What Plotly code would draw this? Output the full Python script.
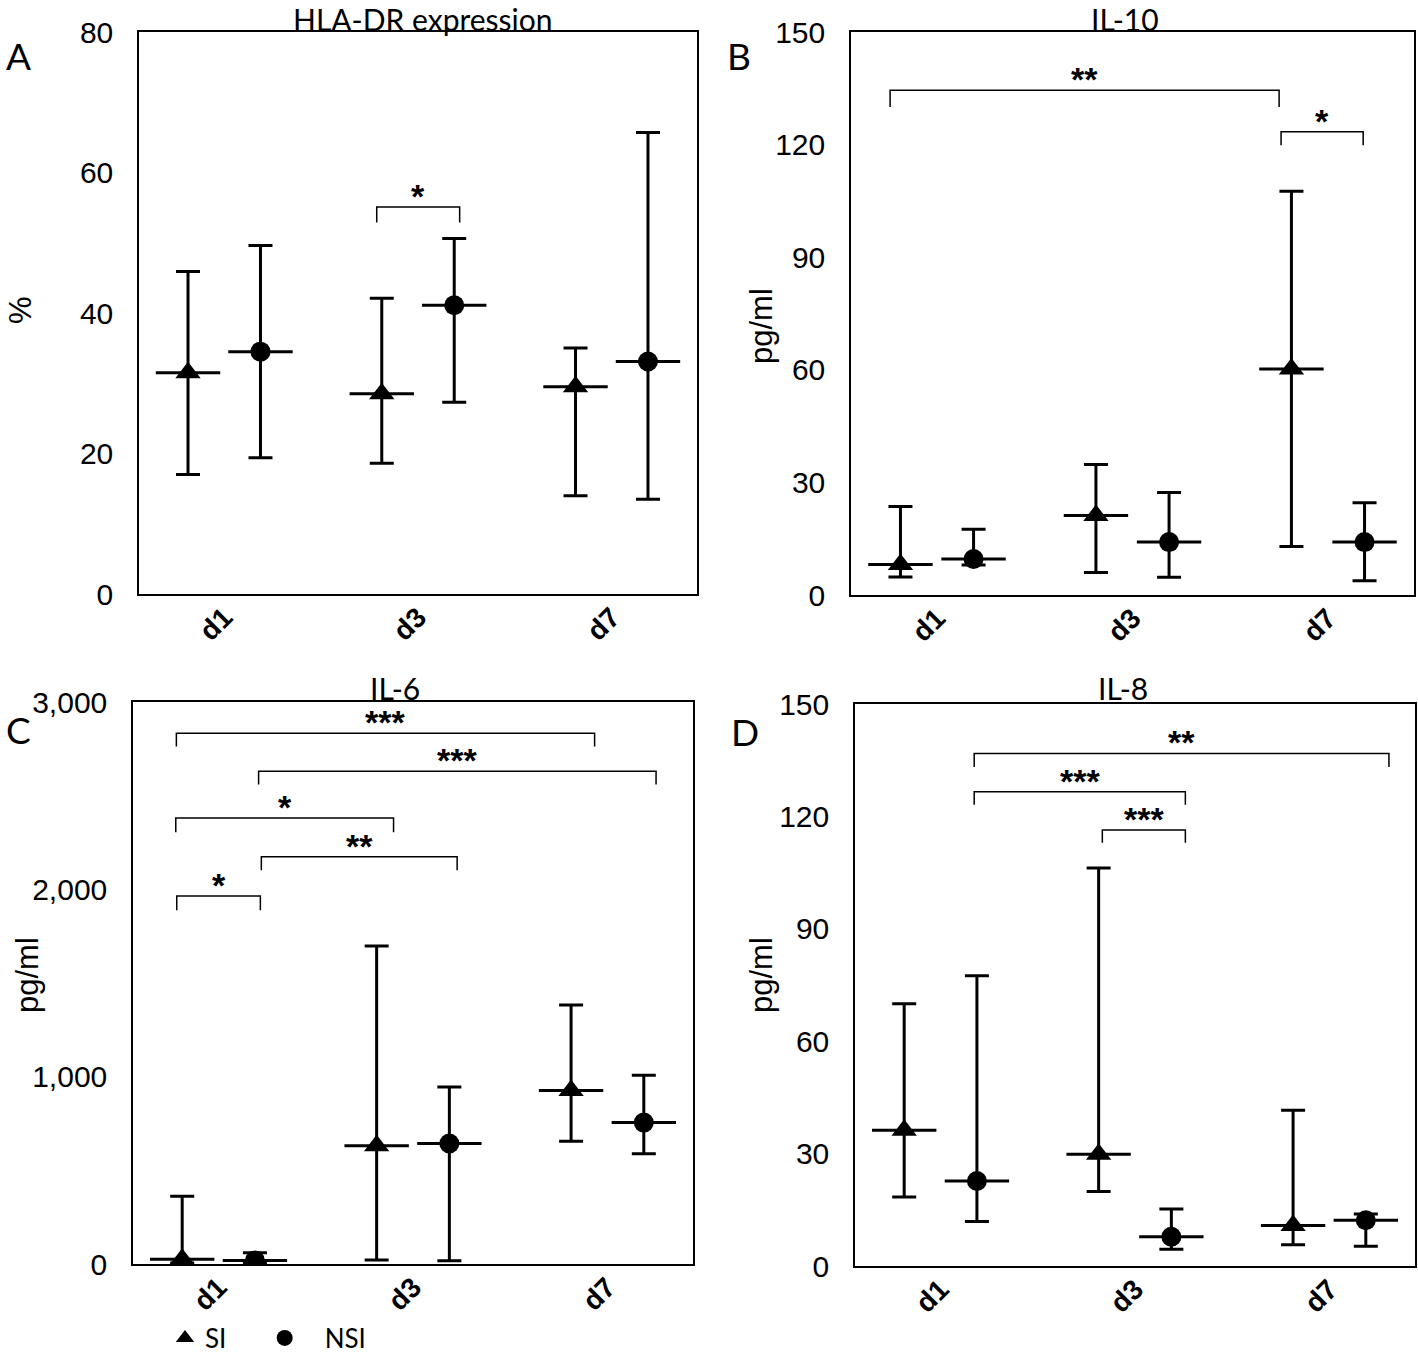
import plotly.graph_objects as go

# ---------------- data ----------------
groups = ["d1", "d3", "d7"]

hla_si_med = [31.5, 28.5, 29.5]
hla_si_lo = [17.0, 18.6, 14.0]
hla_si_hi = [45.9, 42.1, 35.0]
hla_nsi_med = [34.5, 41.1, 33.1]
hla_nsi_lo = [19.4, 27.3, 13.5]
hla_nsi_hi = [49.6, 50.6, 65.7]

il10_si_med = [8.1, 21.2, 60.2]
il10_si_lo = [4.8, 6.0, 12.9]
il10_si_hi = [23.6, 34.8, 107.6]
il10_nsi_med = [9.6, 14.1, 14.1]
il10_nsi_lo = [8.0, 4.7, 3.8]
il10_nsi_hi = [17.5, 27.3, 24.6]

il6_si_med = [26, 631, 926]
il6_si_lo = [5, 21, 655]
il6_si_hi = [362, 1698, 1383]
il6_nsi_med = [19, 643, 755]
il6_nsi_lo = [5, 17, 588]
il6_nsi_hi = [60, 945, 1007]

il8_si_med = [36.2, 29.8, 10.8]
il8_si_lo = [18.4, 19.9, 5.7]
il8_si_hi = [70.0, 106.2, 41.6]
il8_nsi_med = [22.7, 7.8, 12.2]
il8_nsi_lo = [11.9, 4.5, 5.3]
il8_nsi_hi = [77.5, 15.2, 13.9]

# significance brackets: (x_start, x_end, y_line, y_tick_end, label)
hla_brackets = [(0.787, 1.215, 55.1, 52.9, "*")]
il10_brackets = [(-0.24, 1.75, 134.5, 130.0, "**"),
                 (1.76, 2.18, 123.4, 119.8, "*")]
il6_brackets = [(-0.217, 1.934, 2833, 2762, "***"),
                (0.206, 2.25, 2631, 2560, "***"),
                (-0.22, 0.90, 2381, 2305, "*"),
                (0.22, 1.227, 2174, 2102, "**"),
                (-0.215, 0.215, 1964, 1888, "*")]
il8_brackets = [(0.173, 2.306, 136.8, 133.2, "**"),
                (0.173, 1.259, 126.6, 123.1, "***"),
                (0.832, 1.259, 116.4, 113.0, "***")]

series_names = ["SI", "NSI"]

panels = [
    dict(letter="A", title="HLA-DR expression", ytitle="%", yrange=[0, 80], dtick=20, fmt="",
         si=(hla_si_med, hla_si_lo, hla_si_hi), nsi=(hla_nsi_med, hla_nsi_lo, hla_nsi_hi),
         br=hla_brackets),
    dict(letter="B", title="IL-10", ytitle="pg/ml", yrange=[0, 150], dtick=30, fmt="",
         si=(il10_si_med, il10_si_lo, il10_si_hi), nsi=(il10_nsi_med, il10_nsi_lo, il10_nsi_hi),
         br=il10_brackets),
    dict(letter="C", title="IL-6", ytitle="pg/ml", yrange=[0, 3000], dtick=1000, fmt=",",
         si=(il6_si_med, il6_si_lo, il6_si_hi), nsi=(il6_nsi_med, il6_nsi_lo, il6_nsi_hi),
         br=il6_brackets),
    dict(letter="D", title="IL-8", ytitle="pg/ml", yrange=[0, 150], dtick=30, fmt="",
         si=(il8_si_med, il8_si_lo, il8_si_hi), nsi=(il8_nsi_med, il8_nsi_lo, il8_nsi_hi),
         br=il8_brackets),
]

# ---------------- layout geometry (pixels) ----------------
W, H = 1418, 1353
boxes = [  # left, right, top, bottom in px
    (139, 697, 32, 594),
    (851, 1414, 32, 595),
    (133, 693, 702, 1264),
    (855, 1415, 704, 1266),
]
letter_pos = [(18, 55), (739, 55), (18, 729), (745, 731)]
title_pos = [(423, 19), (1125, 19), (395, 688), (1123, 688)]
ytitle_pos = [(20, 310), (761, 326), (27, 975), (761, 975)]

OFF = 0.187
FONT_TICK = "Liberation Sans, Arial, sans-serif"
FONT_TXT = "Lato, Open Sans, sans-serif"
NB = "\u00a0"

fig = go.Figure()
annotations = []
shapes = []

for i, p in enumerate(panels):
    n = i + 1
    xa = "x" if n == 1 else f"x{n}"
    ya = "y" if n == 1 else f"y{n}"
    L, R, T, B = boxes[i]
    fig.layout[f"xaxis{'' if n == 1 else n}"] = dict(
        domain=[L / W, R / W], anchor=ya, range=[-0.44, 2.44],
        tickvals=[0, 1, 2], ticktext=groups, tickangle=-45,
        tickfont=dict(family=FONT_TICK, size=28, color="black", weight="bold"),
        showline=True, linecolor="black", linewidth=1.5, mirror=True,
        showgrid=False, zeroline=False, ticks="", ticklabelstandoff=-6,
        automargin=False, fixedrange=True)
    fig.layout[f"yaxis{'' if n == 1 else n}"] = dict(
        domain=[1 - B / H, 1 - T / H], anchor=xa, range=p["yrange"], dtick=p["dtick"],
        tickformat=p["fmt"], tickfont=dict(family=FONT_TICK, size=30, color="black"),
        showline=True, linecolor="black", linewidth=1.5, mirror=True,
        showgrid=False, zeroline=False, ticks="", ticklabelstandoff=18,
        automargin=False, fixedrange=True)

    for key, off, sym, msize, name in [("si", -OFF, "triangle-up", 22, series_names[0] + NB * 5),
                                       ("nsi", OFF, "circle", 20, NB * 3 + series_names[1])]:
        med, lo, hi = p[key]
        xs = [g + off for g in range(3)]
        fig.add_trace(go.Scatter(
            x=xs, y=med, xaxis=xa, yaxis=ya, mode="markers", showlegend=False,
            marker=dict(symbol="line-ew", size=46, color="black",
                        line=dict(color="black", width=3)),
            error_y=dict(type="data", symmetric=False,
                         array=[h - m for h, m in zip(hi, med)],
                         arrayminus=[m - l for m, l in zip(med, lo)],
                         color="black", thickness=3, width=12)))
        fig.add_trace(go.Scatter(
            x=xs, y=med, xaxis=xa, yaxis=ya, mode="markers", name=name,
            showlegend=(i == 0),
            marker=dict(symbol=sym, size=msize, color="black")))

    for (x0, x1, yl, yt, lab) in p["br"]:
        shapes.append(dict(type="path", xref=xa, yref=ya,
                           path=f"M {x0},{yt} L {x0},{yl} L {x1},{yl} L {x1},{yt}",
                           line=dict(color="black", width=1.5)))
        annotations.append(dict(x=(x0 + x1) / 2, y=yl, xref=xa, yref=ya, text=lab,
                                showarrow=False, yanchor="bottom", yshift=-10,
                                font=dict(family=FONT_TICK, size=34, color="black",
                                          weight="bold")))

    lx, ly = letter_pos[i]
    annotations.append(dict(x=lx / W, y=1 - ly / H, xref="paper", yref="paper",
                            text=p["letter"], showarrow=False, xanchor="center", yanchor="middle",
                            font=dict(family=FONT_TXT, size=37, color="black")))
    tx, ty = title_pos[i]
    annotations.append(dict(x=tx / W, y=1 - ty / H, xref="paper", yref="paper",
                            text=p["title"], showarrow=False, xanchor="center", yanchor="middle",
                            font=dict(family=FONT_TXT, size=30, color="black")))
    yx, yy = ytitle_pos[i]
    annotations.append(dict(x=yx / W, y=1 - yy / H, xref="paper", yref="paper",
                            text=p["ytitle"], showarrow=False, textangle=-90,
                            xanchor="center", yanchor="middle",
                            font=dict(family=FONT_TICK, size=31, color="black")))

fig.update_layout(
    template="none",
    width=W, height=H, margin=dict(l=0, r=0, t=0, b=0, autoexpand=False),
    paper_bgcolor="white", plot_bgcolor="white",
    shapes=shapes, annotations=annotations,
    showlegend=True,
    legend=dict(orientation="h", x=165 / W, y=1 - 1338 / H, xanchor="left", yanchor="middle",
                font=dict(family=FONT_TXT, size=26, color="black"),
                bgcolor="rgba(0,0,0,0)", tracegroupgap=0),
)

fig.write_html("out.html", config={"displayModeBar": False},
               post_script="document.body.style.margin='0';")
